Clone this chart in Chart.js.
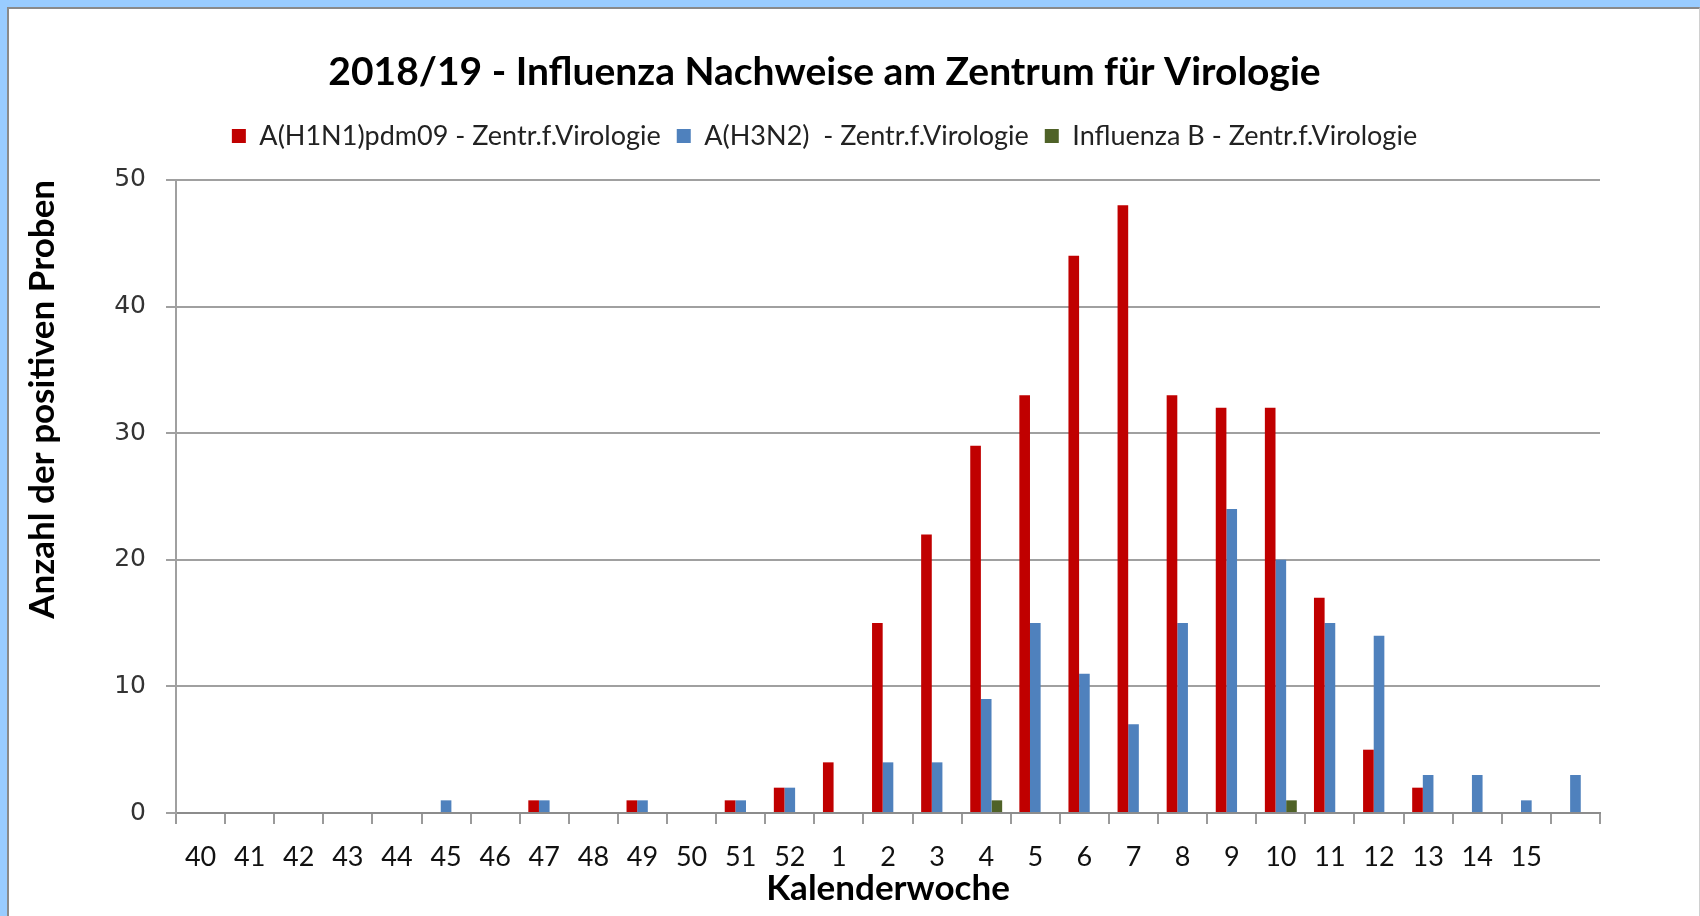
<!DOCTYPE html>
<html>
<head>
<meta charset="utf-8">
<script src="https://cdn.jsdelivr.net/npm/chart.js@4.4.1/dist/chart.umd.min.js"></script>
<style>
  body { margin: 0; background: #99CCFF; }
  #frame { position: absolute; left: 0; top: 0; width: 1700px; height: 916px; background: #99CCFF; }
  #inner {
    position: absolute; left: 7px; top: 7px; width: 1693px; height: 909px;
    box-sizing: border-box; background: #fff;
    border-left: 2px solid #8a8a8a; border-top: 2px solid #8a8a8a; border-right: 1px solid #d0d0d0;
  }
</style>
</head>
<body>
<div id="frame"><div id="inner"><canvas id="chart" width="1690" height="907"></canvas></div></div>
<script>
// Kalenderwochen 40/2018 bis 16/2019 (letzte ohne Beschriftung)
const wochen = ['40', '41', '42', '43', '44', '45', '46', '47', '48', '49', '50', '51', '52',
  '1', '2', '3', '4', '5', '6', '7', '8', '9', '10', '11', '12', '13', '14', '15', ''];

const h1n1 = [0, 0, 0, 0, 0, 0, 0, 1, 0, 1, 0, 1, 2,
  4, 15, 22, 29, 33, 44, 48, 33, 32, 32, 17, 5, 2, 0, 0, 0];
const h3n2 = [0, 0, 0, 0, 0, 1, 0, 1, 0, 1, 0, 1, 2,
  0, 4, 4, 9, 15, 11, 7, 15, 24, 20, 15, 14, 3, 3, 1, 3];
const influB = [0, 0, 0, 0, 0, 0, 0, 0, 0, 0, 0, 0, 0,
  0, 0, 0, 1, 0, 0, 0, 0, 0, 1, 0, 0, 0, 0, 0, 0];

const yTicks = [0, 10, 20, 30, 40, 50];

const ctx = document.getElementById('chart').getContext('2d');

new Chart(ctx, {
    type: 'bar',
    data: {
        labels: wochen,
        datasets: [
            { label: 'A(H1N1)pdm09 - Zentr.f.Virologie', data: h1n1, backgroundColor: '#C00000' },
            { label: 'A(H3N2)  - Zentr.f.Virologie', data: h3n2, backgroundColor: '#4F81BD' },
            { label: 'Influenza B - Zentr.f.Virologie', data: influB, backgroundColor: '#4F6228' }
        ]
    },
    options: {
        responsive: false,
        animation: false,
        layout: { padding: { left: 40, right: 99, top: 0, bottom: 0 } },
        datasets: {
            bar: { categoryPercentage: 0.65, barPercentage: 1.0, borderWidth: 0 }
        },
        plugins: {
            tooltip: { enabled: false },
            title: {
                display: true,
                text: '2018/19 - Influenza Nachweise am Zentrum für Virologie',
                color: '#000',
                font: { family: 'Lato', weight: 'bold', size: 39 },
                padding: { top: 39.6, bottom: 11 }
            },
            legend: {
                display: true,
                labels: {
                    color: '#222',
                    font: { family: 'Lato', size: 27 },
                    boxWidth: 14,
                    boxHeight: 14,
                    padding: 16
                }
            },
            // nur Abstand zwischen Legende und Diagramm
            subtitle: {
                display: true,
                text: ' ',
                weight: 500,
                font: { size: 1 },
                padding: { top: 0, bottom: 19.3 }
            }
        },
        scales: {
            x: {
                ticks: {
                    color: '#111',
                    font: { family: 'Lato', size: 27 },
                    padding: 17,
                    maxRotation: 0,
                    autoSkip: false
                },
                grid: { drawOnChartArea: false, color: '#9a9a9a', lineWidth: 2, tickLength: 11, offset: true },
                border: { color: '#8c8c8c', width: 2 },
                title: {
                    display: true,
                    text: 'Kalenderwoche',
                    color: '#000',
                    font: { family: 'Lato', weight: 'bold', size: 35 },
                    padding: { top: 0, bottom: 6 }
                },
                afterFit: function (scale) { scale.height = 103; }
            },
            y: {
                min: 0,
                max: 50,
                afterBuildTicks: function (scale) {
                    scale.ticks = yTicks.map(v => ({ value: v }));
                },
                ticks: {
                    color: '#333',
                    font: { family: 'DejaVu Sans', size: 25 },
                    padding: 20
                },
                grid: { color: '#a0a0a0', lineWidth: 2, tickLength: 10 },
                border: { color: '#a0a0a0', width: 2 },
                title: {
                    display: true,
                    text: 'Anzahl der positiven Proben',
                    align: 'end',
                    color: '#000',
                    font: { family: 'Lato', weight: 'bold', size: 35 },
                    padding: { top: -27, bottom: 0 }
                },
                afterFit: function (scale) { scale.width = 127; }
            }
        }
    }
});
</script>
</body>
</html>
